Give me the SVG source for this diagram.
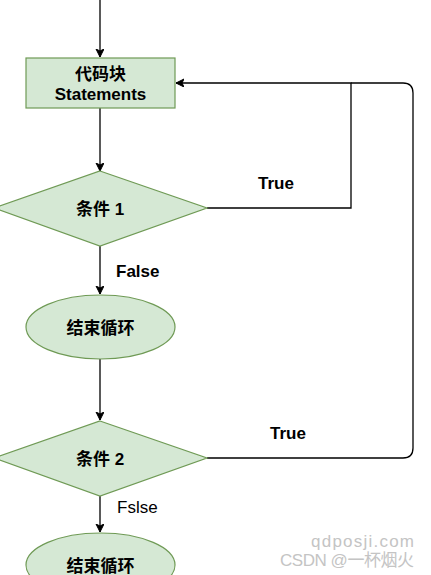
<svg xmlns="http://www.w3.org/2000/svg" width="431" height="575" viewBox="0 0 431 575">
<defs>
<marker id="arr" markerWidth="10" markerHeight="10" refX="8" refY="4" orient="auto" markerUnits="userSpaceOnUse">
<path d="M0,0 L8,4 L0,8 L2,4 Z" fill="#000" stroke="#000" stroke-width="1"/>
</marker>
<style>
.node{fill:#d5e8d4;stroke:#6f9a55;stroke-width:1.2}
.lbl{font-family:"Liberation Sans","Noto Sans CJK SC",sans-serif;font-size:17px;font-weight:bold;fill:#000;text-anchor:middle}
.edge{fill:none;stroke:#000;stroke-width:1.3}
.el{font-family:"Liberation Sans","Noto Sans CJK SC",sans-serif;font-size:17px;fill:#000}
.wm{font-family:"Liberation Sans","Noto Sans CJK SC",sans-serif;font-size:17px;fill:#c4c4c4}
</style>
</defs>
<rect width="431" height="575" fill="#fff"/>
<g id="connectors">
<path class="edge" d="M100,0 L100,57" marker-end="url(#arr)"/>
<path class="edge" d="M100,108 L100,171" marker-end="url(#arr)"/>
<path class="edge" d="M207,208 L351,208 L351,83 L176,83" marker-end="url(#arr)"/>
<path class="edge" d="M351,83 L403,83 Q413,83 413,93 L413,448 Q413,458 403,458 L207,458"/>
<path class="edge" d="M100,246 L100,294" marker-end="url(#arr)"/>
<path class="edge" d="M100,359 L100,420" marker-end="url(#arr)"/>
<path class="edge" d="M100,496 L100,532" marker-end="url(#arr)"/>
<text class="el" x="258" y="189" font-weight="bold">True</text>
<text class="el" x="116" y="277" font-weight="bold">False</text>
<text class="el" x="270" y="439" font-weight="bold">True</text>
<text class="el" x="117" y="513">Fslse</text>
</g>
<g id="statements">
<rect class="node" x="26" y="58" width="149" height="50"/>
<text class="lbl" x="100.5" y="80">代码块</text>
<text class="lbl" x="100.5" y="100">Statements</text>
</g>
<g id="cond1">
<polygon class="node" points="100,171 207,208 100,246 -6,208"/>
<text class="lbl" x="100" y="215">条件 1</text>
</g>
<g id="end1">
<ellipse class="node" cx="100.5" cy="327" rx="74.5" ry="32"/>
<text class="lbl" x="100.5" y="334">结束循环</text>
</g>
<g id="cond2">
<polygon class="node" points="100,421 207,458 100,496 -6,458"/>
<text class="lbl" x="100" y="465">条件 2</text>
</g>
<g id="end2">
<ellipse class="node" cx="100.5" cy="565" rx="74.5" ry="32"/>
<text class="lbl" x="100.5" y="572">结束循环</text>
</g>
<text class="wm" x="311" y="547" textLength="103">qdposji.com</text>
<text class="wm" x="280" y="566" textLength="134">CSDN @一杯烟火</text>
</svg>
